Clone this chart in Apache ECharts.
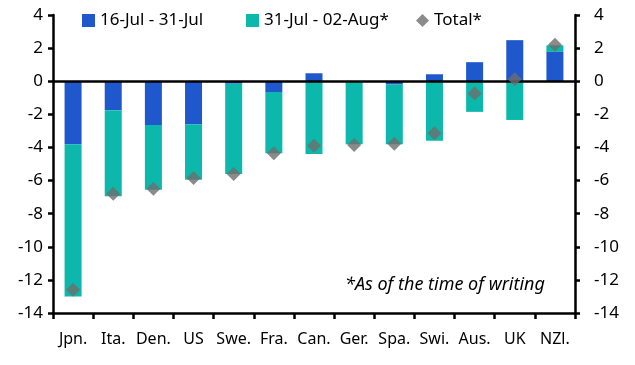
<!DOCTYPE html>
<html><head><meta charset="utf-8">
<script src="https://cdn.jsdelivr.net/npm/echarts@6/dist/echarts.min.js"></script>
<style>html,body{margin:0;padding:0;background:#fff}#c{width:635px;height:365px}</style>
</head><body><div id="c"></div>
<script>
var categories = ['Jpn.','Ita.','Den.','US','Swe.','Fra.','Can.','Ger.','Spa.','Swi.','Aus.','UK','NZl.'];
var julSeries = [-3.8,-1.75,-2.65,-2.6,-0.15,-0.65,0.48,0,-0.2,0.42,1.15,2.48,1.77];
var augSeries = [-9.2,-5.2,-3.9,-3.35,-5.45,-3.7,-4.4,-3.8,-3.6,-3.6,-1.85,-2.34,0.4];
var totalSeries = [-12.6,-6.8,-6.5,-5.85,-5.6,-4.35,-3.9,-3.85,-3.78,-3.15,-0.74,0.12,2.2];
var names = ['16-Jul - 31-Jul','31-Jul - 02-Aug*','Total*'];
var yTicks = {min:-14,max:4,interval:2};

var font = 'Noto Sans';
var chart = echarts.init(document.getElementById('c'));
function yAxis(pos){
  return {type:'value',position:pos,min:yTicks.min,max:yTicks.max,interval:yTicks.interval,
    axisLine:{show:true,lineStyle:{color:'#000',width:2.5}},
    axisTick:{show:true,length:5,lineStyle:{color:'#000',width:2.5}},
    axisLabel:{color:'#000',fontSize:17,fontFamily:font,margin:pos==='right'?19:10},
    splitLine:{show:false}};
}
function leg(left,name,icon){
  return {top:7,left:left,itemWidth:13,itemHeight:13,itemGap:10,
    textStyle:{fontSize:17,fontFamily:font,color:'#000'},
    data:[{name:name,icon:icon}]};
}
chart.setOption({
  animation:false,
  grid:{left:53,right:60,top:15,bottom:52},
  legend:[leg(77,names[0],'rect'),leg(241,names[1],'rect'),leg(411,names[2],'diamond')],
  xAxis:{type:'category',data:categories,
    axisLine:{onZero:false,lineStyle:{color:'#000',width:2.5}},
    axisTick:{show:true,length:6,lineStyle:{color:'#000',width:2.5}},
    axisLabel:{color:'#000',fontSize:16,fontFamily:font,margin:18,interval:0}},
  yAxis:[yAxis('left'),yAxis('right')],
  graphic:[{type:'text',left:345,top:276,style:{text:'*As of the time of writing',fontSize:18,fontStyle:'italic',fontFamily:font,fill:'#000'}}],
  series:[
    {name:names[0],type:'bar',stack:'a',data:julSeries,barWidth:17,itemStyle:{color:'#1F57CC'},
      markLine:{silent:true,symbol:'none',label:{show:false},lineStyle:{color:'#000',width:2.5,type:'solid'},data:[{yAxis:0}]}},
    {name:names[1],type:'bar',stack:'a',data:augSeries,barWidth:17,itemStyle:{color:'#0CB8AB'}},
    {name:names[2],type:'scatter',data:totalSeries,symbol:'diamond',symbolSize:[14,14],itemStyle:{color:'#6E6E6E'},z:5}
  ]
});
</script></body></html>
